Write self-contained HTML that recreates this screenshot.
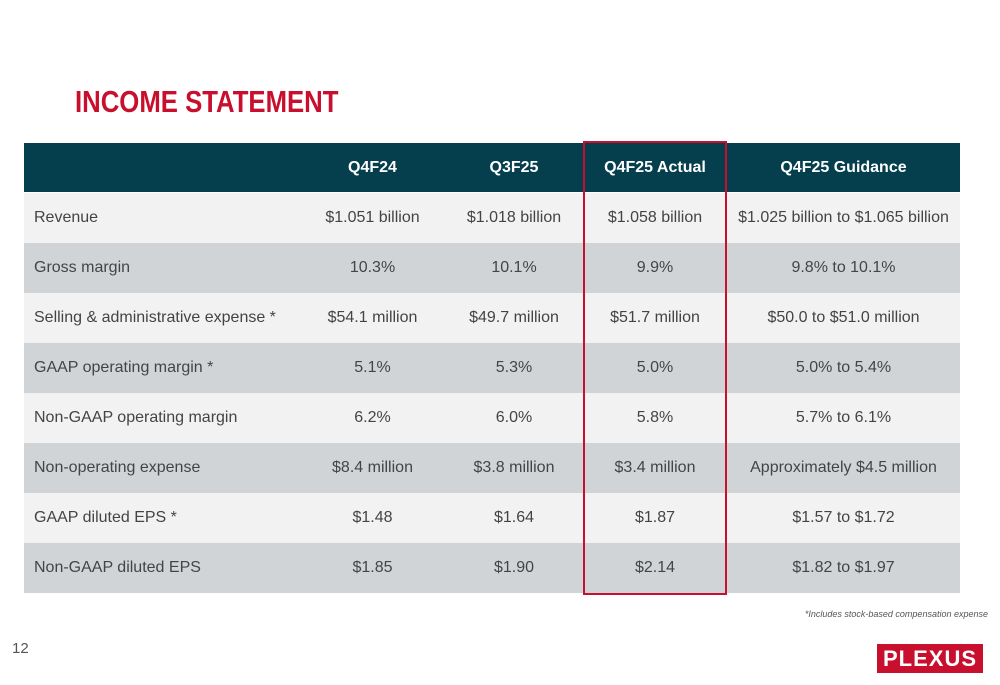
<!DOCTYPE html>
<html><head><meta charset="utf-8"><style>
body{margin:0;width:1000px;height:685px;background:#fff;position:relative;overflow:hidden;font-family:"Liberation Sans",sans-serif}
.title{position:absolute;left:75px;top:84px;font-size:31px;font-weight:bold;color:#c8102e;transform:scaleX(0.83);transform-origin:left;white-space:nowrap}
.row{position:absolute;left:24px;width:936px;height:50px}
.c{position:absolute;top:0;height:50px;line-height:50px;font-size:16px;color:#444;text-align:center;white-space:nowrap}
.h .c{color:#fff;font-weight:bold;font-size:16px}
.c0{left:0;width:262px;text-align:left;padding-left:10px}
.c1{left:276px;width:145px}.c2{left:421px;width:138px}.c3{left:559px;width:144px}.c4{left:703px;width:233px}
.box{position:absolute;left:583px;top:141px;width:140px;height:450px;border:2px solid #c8102e}
.note{position:absolute;right:12px;top:609px;font-size:9px;font-style:italic;color:#555}
.logo{position:absolute;left:877px;top:644px;width:106px;height:29px;background:#c8102e;color:#fff;font-weight:bold;font-size:22px;line-height:29px;text-align:center;letter-spacing:1px}
.pg{position:absolute;left:12px;top:640px;font-size:15px;color:#555}
</style></head><body>
<div class="title">INCOME STATEMENT</div>
<div class="row h" style="top:143px;height:49px;background:#053e4d">
<div class="c c1">Q4F24</div><div class="c c2">Q3F25</div><div class="c c3">Q4F25 Actual</div><div class="c c4">Q4F25 Guidance</div></div>
<div id="rows"></div>
<div class="box"></div>
<div class="note">*Includes stock-based compensation expense</div>
<div class="logo">PLEXUS</div>
<div class="pg">12</div>
<script>
const labels=["Revenue","Gross margin","Selling & administrative expense *","GAAP operating margin *","Non-GAAP operating margin","Non-operating expense","GAAP diluted EPS *","Non-GAAP diluted EPS"];
const q4f24=["$1.051 billion","10.3%","$54.1 million","5.1%","6.2%","$8.4 million","$1.48","$1.85"];
const q3f25=["$1.018 billion","10.1%","$49.7 million","5.3%","6.0%","$3.8 million","$1.64","$1.90"];
const actual=["$1.058 billion","9.9%","$51.7 million","5.0%","5.8%","$3.4 million","$1.87","$2.14"];
const guidance=["$1.025 billion to $1.065 billion","9.8% to 10.1%","$50.0 to $51.0 million","5.0% to 5.4%","5.7% to 6.1%","Approximately $4.5 million","$1.57 to $1.72","$1.82 to $1.97"];
const host=document.getElementById('rows');
labels.forEach((l,i)=>{
 const r=document.createElement('div');r.className='row';
 
 
 r.style.top=(193+i*50)+'px';r.style.background=i%2?'#d1d4d7':'#f2f2f2';
 [l,q4f24[i],q3f25[i],actual[i],guidance[i]].forEach((t,j)=>{
  const c=document.createElement('div');c.className='c c'+j;c.textContent=t;
  
  
  r.appendChild(c);});
 host.appendChild(r);});
</script>
</body></html>
